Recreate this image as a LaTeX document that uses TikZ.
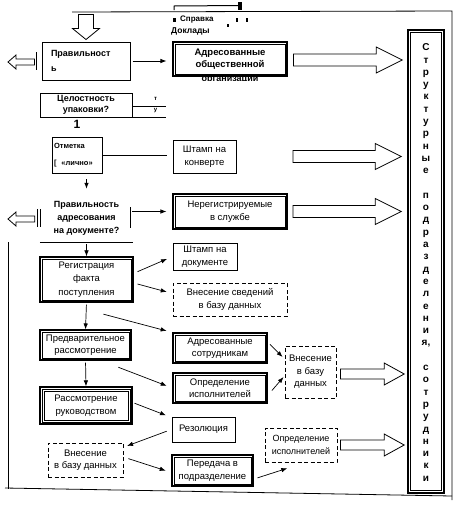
\documentclass[tikz,border=0pt]{standalone}
\usepackage{fontspec}
\setmainfont{Liberation Sans}
\usetikzlibrary{arrows.meta,calc}
\newcommand\fn{\fontsize{9.5}{12.5}\selectfont}
\newcommand\fb{\bfseries\fontsize{9}{12.5}\selectfont}
\newcommand\blockarrowR[5]{\draw[hol] let \p1=(#1), \p2=(#2) in
  (\x1,\y1+#3pt) -- (\x2-#5pt,\y1+#3pt) -- (\x2-#5pt,\y1+#4pt) -- (\x2,\y1)
  -- (\x2-#5pt,\y1-#4pt) -- (\x2-#5pt,\y1-#3pt) -- (\x1,\y1-#3pt) -- cycle;}
\newcommand\blockarrowL[5]{\draw[hol] let \p1=(#1), \p2=(#2) in
  (\x1,\y1+#3pt) -- (\x2+#5pt,\y1+#3pt) -- (\x2+#5pt,\y1+#4pt) -- (\x2,\y1)
  -- (\x2+#5pt,\y1-#4pt) -- (\x2+#5pt,\y1-#3pt) -- (\x1,\y1-#3pt) -- cycle;}
\newcommand\inbox[3]{\draw[line width=#3] ($(#1.north west)+(#2,#2)$) rectangle ($(#1.south east)+(-#2,-#2)$);}
\begin{document}
\begin{tikzpicture}[x=1pt,y=-1pt,
  wh/.style 2 args={minimum width=#1pt, minimum height=#2pt},
  box/.style={draw, line width=0.8pt, inner sep=0pt, align=center, font=\fn},
  dbox/.style={box, line width=1.1pt},
  dashbox/.style={box, dash pattern=on 4pt off 2.5pt, line width=0.9pt},
  arr/.style={-{Latex[length=6pt,width=4.5pt]}, line width=0.7pt, shorten <=2pt},
  gap/.style={shorten >=6pt},
  hol/.style={draw, line width=0.8pt, fill=white},
  ln/.style={line width=0.8pt}]
\useasboundingbox (0,0) rectangle (455,509);

% outer frame
\draw[ln] (72,12) -- (452,11) -- (452,500);
\draw[ln] (8,242) -- (8,489);
\draw[ln] (5,488) -- (452,496);
\draw[line width=1pt] (174,10) -- (174,6) -- (240,5.5);
\fill (238,2) rectangle (242,10);
\fill (173,18) rectangle (176,22);
\fill (236,18) rectangle (238,22);
\fill (246,18) rectangle (248,22);
\fill (227,24) rectangle (228.5,27);
\node[font=\bfseries\fontsize{8}{9}\selectfont, anchor=west, inner sep=0] (spr) at (180,20) {Справка};
\node[font=\bfseries\fontsize{8.5}{9}\selectfont, anchor=west, inner sep=0] (dok) at (171,31) {Доклады};

% right column
\node[draw, line width=1.6pt, wh={36}{463}, inner sep=0] (R) at (426,261.5) {};
\inbox{R}{3.5}{0.8pt}
\node[font=\bfseries\fontsize{10}{12.3}\selectfont, align=center, inner sep=0] (Rt) at ([yshift=-1pt]R.center)
 {С\\т\\р\\у\\к\\т\\у\\р\\н\\ы\\е\\~\\п\\о\\д\\р\\а\\з\\д\\е\\л\\е\\н\\и\\я,\\~\\с\\о\\т\\р\\у\\д\\н\\и\\к\\и};

% left column
\node[box, wh={88}{38}, line width=1pt, font=\fb, text width=70pt, align=left] (pr1) at (86,61) {Правильност\\[3pt]ь};
\node[box, wh={92}{24}, line width=1pt, font=\bfseries\fontsize{9}{11}\selectfont] (cel) at (86,105) {Целостность\\упаковки?};
\node[font=\bfseries\fontsize{12}{12}\selectfont, inner sep=0] (one) at (77,124) {1};
\node[box, wh={50}{36}, font=\bfseries\fontsize{7.5}{9}\selectfont, text width=46pt, align=left] (otm) at (77,155) {Отметка\\[8pt]{[}\ \ «лично»};
\node[wh={93}{48}, font=\bfseries\fontsize{9}{13}\selectfont, align=center, inner sep=0] (pad) at (86.5,218) {Правильность\\адресования\\на документе?};
\node[dbox, wh={93}{45}, line width=1.3pt, font=\fontsize{9.5}{13.5}\selectfont] (reg) at (86.5,279.5) {Регистрация\\факта\\поступления};
\inbox{reg}{2.6}{0.6pt}
\node[dbox, wh={91}{30}] (pre) at (85.5,345) {Предварительное\\рассмотрение};
\inbox{pre}{2.4}{0.5pt}
\node[dbox, wh={92}{37}, line width=1.3pt] (ruk) at (86,405.5) {Рассмотрение\\руководством};
\inbox{ruk}{2.6}{0.6pt}
\inbox{ruk}{4.6}{0.6pt}
\node[dashbox, wh={75}{34}] (vbd2) at (85.5,460) {Внесение\\в базу данных};

% middle column
\node[dbox, wh={114}{34}, font=\bfseries\fontsize{9.5}{12}\selectfont] (adr1) at (230,59) {Адресованные\\общественной};
\inbox{adr1}{2.4}{0.5pt}
\begin{scope}
\clip (176,74.5) rectangle (284,80);
\node[font=\bfseries\fontsize{9}{10}\selectfont] (org) at (230,80.5) {организации};
\end{scope}
\node[box, wh={63}{33}] (st1) at (204.5,156.5) {Штамп на\\конверте};
\node[dbox, wh={114}{35}] (ner) at (230,211.5) {Нерегистрируемые\\в службе};
\inbox{ner}{2.4}{0.5pt}
\node[box, wh={64}{27}] (st2) at (205,256.5) {Штамп на\\документе};
\node[dashbox, wh={114}{33}] (vns) at (230,299.5) {Внесение сведений\\в базу данных};
\node[dbox, wh={94}{30}] (adrs) at (220,348) {Адресованные\\сотрудникам};
\inbox{adrs}{2.4}{0.5pt}
\node[dbox, wh={94}{30}, line width=1.3pt] (opr1) at (220,388) {Определение\\исполнителей};
\inbox{opr1}{2.6}{0.5pt}
\node[box, wh={63}{25}] (rez) at (203.5,429.5) {Резолюция};
\node[dbox, wh={81}{31}] (per) at (212.5,470.5) {Передача в\\подразделение};
\inbox{per}{2.4}{0.5pt}
\node[dashbox, wh={51}{52}] (vbd1) at (310.5,372) {Внесение\\в базу\\данных};
\node[dashbox, wh={72}{34}, font=\fontsize{9}{12.5}\selectfont] (opr2) at (301,445) {Определение\\исполнителей};

% top hollow down arrow
\draw[hol] let \p1=($(pr1.north)+(0,-2)$) in (\x1,\y1) -- (\x1-13.5pt,\y1+11pt) -- (\x1-7.5pt,\y1+11pt)
  -- (\x1-7.5pt,\y1+25pt) -- (\x1+7.5pt,\y1+25pt) -- (\x1+7.5pt,\y1+11pt) -- (\x1+13.5pt,\y1+11pt) -- cycle;

% left hollow arrows
\coordinate (L1) at (8,62);
\coordinate (L2) at (8,219);
\blockarrowL{$(pr1.west)+(-7,1)$}{L1}{3}{7}{8}
\draw[ln] ($(pr1.west)+(-5,-9)$) -- ++(0,18);
\blockarrowL{$(pad.west)+(-5,1)$}{L2}{3}{7}{8}
\draw[ln] ($(pad.west)+(-2,-9)$) -- ++(0,18);
\draw[ln] ($(pad.west)+(1,-9)$) -- ++(0,18);

% right hollow arrows
\coordinate (hs) at (293,0);
\blockarrowR{$(adr1.east)+(6,1)$}{$(R.west)+(-5,0)$}{6}{13}{26}
\blockarrowR{st1.east -| hs}{$(R.west)+(-6,0)$}{6}{13}{26}
\blockarrowR{ner.east -| hs}{$(R.west)+(-6,0)$}{6}{13}{26}
\blockarrowR{$(vbd1.east)+(4,2)$}{$(R.west)+(-3,0)$}{5}{11}{20}
\blockarrowR{$(opr2.east)+(3,0)$}{$(R.west)+(-3,0)$}{5}{11}{20}

% connectors
\draw[arr,gap] (pr1.east) -- (pr1.east -| adr1.west);
\draw[ln] ($(cel.east)+(0,1)$) -- +(33,0);
\draw[ln] (cel.south east) -- +(33,0);
\node[font=\bfseries\fontsize{6}{6}\selectfont, inner sep=0] (t1) at ($(cel.east)+(23,-6)$) {т};
\node[font=\bfseries\fontsize{6}{6}\selectfont, inner sep=0] (t2) at ($(cel.east)+(23,6)$) {у};
\draw[ln, shorten >=6pt] (otm.east) -- (otm.east -| st1.west);
\draw[arr, shorten >=5pt] ($(otm.south)+(9.5,4)$) -- (pad.north);
\draw[ln] (pad.south west) -- (pad.south east);
\draw[ln] ($(pad.east)+(-3,-11)$) -- ($(pad.east)+(-3,10)$);
\draw[arr,gap] ($(pad.east)+(-3,-6.5)$) -- (ner.west);
\draw[arr] (pad.south) -- (reg.north);
\draw[arr,gap] ($(reg.east)+(2,-7)$) -- (st2.west);
\draw[arr,gap] ($(reg.east)+(2,4)$) -- ($(vns.west)+(0,-6)$);
\draw[arr,gap] ($(reg.south)+(15,11)$) -- (adrs.north west);
\draw[arr] (reg.south) -- (pre.north);
\draw[arr,gap] ($(pre.south)+(31,6)$) -- (opr1.west);
\draw[arr] (pre.south) -- (ruk.north);
\draw[arr,gap] ($(ruk.east)+(0,-3)$) -- ($(rez.west)+(0,-12)$);
\draw[arr,gap] ($(rez.west)+(-3,1)$) -- ($(vbd2.east)+(-2,-12)$);
\draw[arr,gap] ($(vbd2.east)+(3,-2)$) -- ($(per.west)+(0,2)$);
\draw[arr,gap] ($(per.east)+(2,8)$) -- ($(opr2.south)+(-8,4)$);
\draw[arr] ($(adrs.east)+(1,-5)$) -- ($(vbd1.west)+(-2,-15)$);
\draw[arr] ($(opr1.east)+(3,4)$) -- ($(vbd1.west)+(-1,5)$);
\end{tikzpicture}
\end{document}
